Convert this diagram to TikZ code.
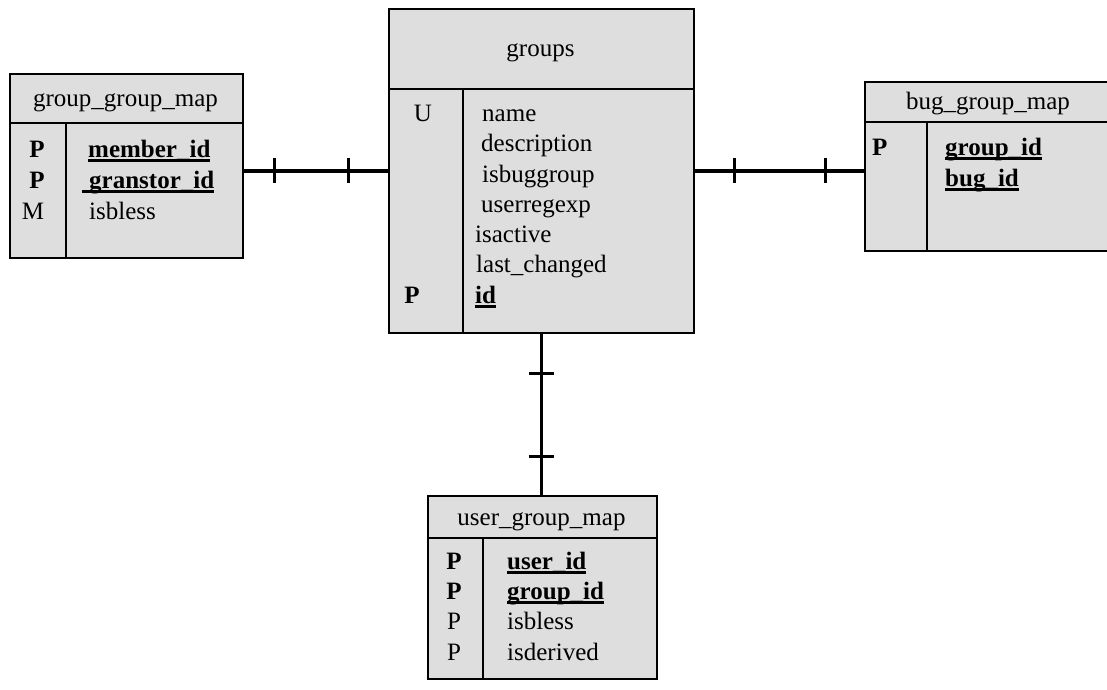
\documentclass[tikz,border=0pt]{standalone}
\usepackage{fontspec}
\setmainfont{Liberation Serif}
\usetikzlibrary{calc}

% bold field name with a heavy underline; optional lead-in length
\newcommand{\keyname}[2][0pt]{%
  \setbox0\hbox{\hspace*{#1}\bfseries #2}%
  \rlap{\rule[-4.5pt]{\wd0}{2.2pt}}\box0}

\tikzset{
  tbl/.style={draw, line width=1.8pt, fill=black!13, inner sep=0pt, anchor=north west},
  sep/.style={line width=1.6pt},
  link/.style={line width=3.6pt},
  tickmark/.style={line width=3.2pt},
  fld/.style={anchor=base west, inner sep=0pt},
  colkey/.style={anchor=base, inner sep=0pt},
  hdr/.style={anchor=base, inner sep=0pt},
}

\begin{document}
\begin{tikzpicture}[x=1pt, y=-1pt, font=\fontsize{25}{30}\selectfont]
\useasboundingbox (0,0) rectangle (1107,689);
\clip (0,0) rectangle (1107,689);

% ---- tables ----
\node[tbl, minimum width=233pt, minimum height=184pt] (ggm) at (9,73) {};
\node[tbl, minimum width=305pt, minimum height=324pt] (groups) at (388,8) {};
\node[tbl, minimum width=250pt, minimum height=169pt] (bgm) at (864,81) {};
\node[tbl, minimum width=229pt, minimum height=183pt] (ugm) at (427,495) {};

% header separators and key-column dividers
\draw[sep] (ggm.west |- 0,123) -- (ggm.east |- 0,123);
\draw[sep] (66,123) -- (66,257);
\draw[sep] (groups.west |- 0,89) -- (groups.east |- 0,89);
\draw[sep] (463,89) -- (463,332);
\draw[sep] (bgm.west |- 0,122) -- (bgm.east |- 0,122);
\draw[sep] (927,122) -- (927,250);
\draw[sep] (ugm.west |- 0,538) -- (ugm.east |- 0,538);
\draw[sep] (483,538) -- (483,678);

% ---- group_group_map ----
\node[hdr] (ggmh) at (125.5,106) {group\_group\_map};
\node[colkey] (ggmk1) at (37,157) {\bfseries P};
\node[colkey] (ggmk2) at (37,188) {\bfseries P};
\node[colkey] (ggmk3) at (33,219) {M};
\node[fld] (ggmf1) at (88,157) {\keyname{member\_id}};
\node[fld] (ggmf2) at (82,188) {\keyname[7pt]{granstor\_id}};
\node[fld] (ggmf3) at (89,219) {isbless};

% ---- groups ----
\node[hdr] (grh) at (540.5,56) {groups};
\node[colkey] (grk1) at (423,121) {U};
\node[colkey] (grk2) at (412,303) {\bfseries P};
\node[fld] (grf1) at (482,121) {name};
\node[fld] (grf2) at (481,151) {description};
\node[fld] (grf3) at (482,182) {isbuggroup};
\node[fld] (grf4) at (481,212) {userregexp};
\node[fld] (grf5) at (475,242) {isactive};
\node[fld] (grf6) at (476,272) {last\_changed};
\node[fld] (grf7) at (475,303) {\keyname{id}};

% ---- bug_group_map ----
\node[hdr] (bgmh) at (988,109) {bug\_group\_map};
\node[fld] (bgmk1) at (872,155) {\bfseries P};
\node[fld] (bgmf1) at (945,155) {\keyname{group\_id}};
\node[fld] (bgmf2) at (945,186) {\keyname{bug\_id}};

% ---- user_group_map ----
\node[hdr] (ugmh) at (541.5,525) {user\_group\_map};
\node[colkey] (ugmk1) at (454,569) {\bfseries P};
\node[colkey] (ugmk2) at (454,599) {\bfseries P};
\node[colkey] (ugmk3) at (454,629) {P};
\node[colkey] (ugmk4) at (454,660) {P};
\node[fld] (ugmf1) at (507,569) {\keyname{user\_id}};
\node[fld] (ugmf2) at (507,599) {\keyname{group\_id}};
\node[fld] (ugmf3) at (507,629) {isbless};
\node[fld] (ugmf4) at (507,660) {isderived};

% ---- relationships (one-to-one bars) ----
\draw[link] (groups.west -| ggm.east) -- (groups.west)
  coordinate[pos=0.212] (l1) coordinate[pos=0.726] (l2);
\draw[link] (groups.east) -- (groups.east -| bgm.west)
  coordinate[pos=0.234] (r1) coordinate[pos=0.772] (r2);
\draw[link] (groups.south) -- (groups.south |- ugm.north)
  coordinate[pos=0.245] (v1) coordinate[pos=0.761] (v2);

\foreach \c in {l1,l2,r1,r2}
  \draw[tickmark] ([yshift=12.5pt]\c) -- ([yshift=-12.5pt]\c);
\foreach \c in {v1,v2}
  \draw[tickmark] ([xshift=-12.5pt]\c) -- ([xshift=12.5pt]\c);
\end{tikzpicture}
\end{document}
